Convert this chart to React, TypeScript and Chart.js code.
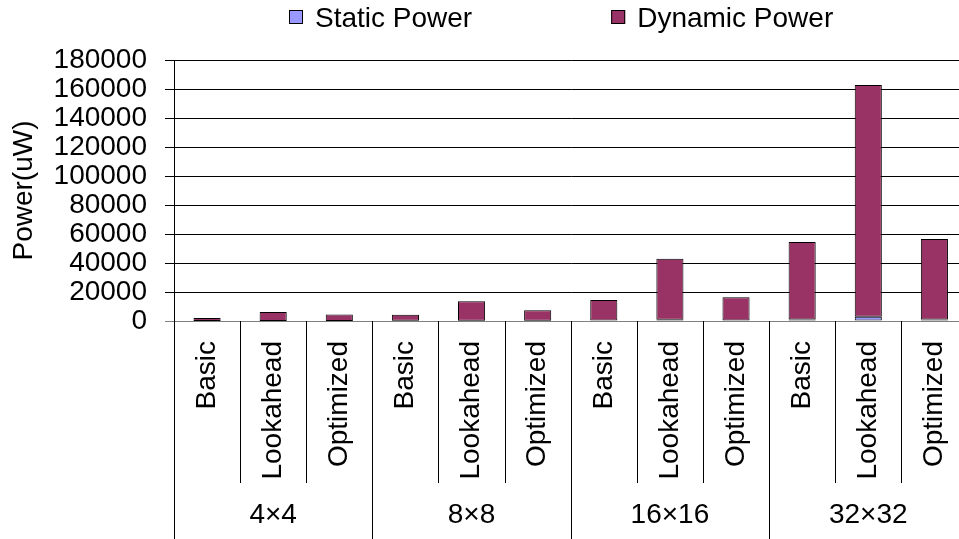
import React, { useEffect, useRef } from 'react';
import { Chart, registerables } from 'chart.js';

Chart.register(...registerables);

const groups = ['4×4', '8×8', '16×16', '32×32'];
const variants = ['Basic', 'Lookahead', 'Optimized'];
const categories = groups.flatMap(() => variants);

const staticPower = [50, 80, 60, 120, 250, 150, 300, 900, 350, 1100, 3000, 1100];
const dynamicPower = [1950, 6120, 4340, 4180, 13350, 7250, 14100, 42100, 15950, 53400, 159700, 55500];

const seriesNames = ['Static Power', 'Dynamic Power'];
const seriesColors = ['#9999FF', '#993366'];

const yMin = 0;
const yMax = 180000;
const yStep = 20000;
const yTitle = 'Power(uW)';

const FONT = '"Liberation Sans", Arial, sans-serif';

export default function App() {
  const ref = useRef<HTMLCanvasElement>(null);

  useEffect(() => {
    Chart.defaults.font.family = FONT;

    const separators = {
      id: 'separators',
      afterDraw(chart: any) {
        const xs = chart.scales.x;
        const x2 = chart.scales.x2;
        const ctx = chart.ctx;
        const top = chart.chartArea.bottom;
        ctx.save();
        ctx.strokeStyle = '#000';
        ctx.lineWidth = 1;
        for (let i = 0; i <= categories.length; i++) {
          const px = Math.round(xs.getPixelForValue(i - 0.5)) + 0.5;
          const bottom = i % variants.length === 0 ? x2.bottom : xs.bottom;
          ctx.beginPath();
          ctx.moveTo(px, top);
          ctx.lineTo(px, bottom);
          ctx.stroke();
        }
        ctx.restore();
      },
    };

    const topLegend = {
      id: 'topLegend',
      afterDraw(chart: any) {
        const ctx = chart.ctx;
        ctx.save();
        ctx.font = `28px ${FONT}`;
        ctx.textBaseline = 'alphabetic';
        let x = 289;
        const boxTop = 10;
        const baseline = 27;
        chart.data.datasets.forEach((ds: any) => {
          ctx.fillStyle = ds.backgroundColor;
          ctx.fillRect(x, boxTop, 14, 14);
          ctx.strokeStyle = '#000';
          ctx.lineWidth = 1;
          ctx.strokeRect(x + 0.5, boxTop + 0.5, 13, 13);
          ctx.fillStyle = '#000';
          ctx.fillText(ds.label, x + 26, baseline);
          x += 26 + ctx.measureText(ds.label).width + 139;
        });
        ctx.restore();
      },
    };

    const chart = new Chart(ref.current!, {
      type: 'bar',
      data: {
        labels: categories,
        datasets: [
          {
            label: seriesNames[0],
            data: staticPower,
            backgroundColor: seriesColors[0],
            borderColor: '#000',
            borderWidth: 1,
            borderSkipped: false,
            barPercentage: 0.41,
            categoryPercentage: 1,
          },
          {
            label: seriesNames[1],
            data: dynamicPower,
            backgroundColor: seriesColors[1],
            borderColor: '#000',
            borderWidth: 1,
            borderSkipped: false,
            barPercentage: 0.41,
            categoryPercentage: 1,
          },
        ],
      },
      options: {
        responsive: false,
        animation: false,
        events: [],
        layout: { padding: { top: 60, left: 0, right: 0, bottom: 0 } },
        plugins: {
          legend: { display: false },
          tooltip: { enabled: false },
        },
        scales: {
          x: {
            stacked: true,
            offset: true,
            weight: 0,
            grid: { display: false, drawTicks: false },
            border: { display: true, color: '#808080', width: 1 },
            ticks: {
              minRotation: 90,
              maxRotation: 90,
              autoSkip: false,
              padding: 20,
              color: '#000',
              font: { size: 28, family: FONT },
            },
            afterFit: (s: any) => {
              s.height = 162;
            },
          },
          x2: {
            type: 'category',
            labels: groups,
            position: 'bottom',
            offset: true,
            weight: 1,
            grid: { display: false, drawTicks: false },
            border: { display: false },
            ticks: {
              autoSkip: false,
              maxRotation: 0,
              padding: 15,
              color: '#000',
              font: { size: 28, family: FONT },
            },
            afterFit: (s: any) => {
              s.height = 56;
            },
          },
          y: {
            stacked: true,
            min: yMin,
            max: yMax,
            ticks: {
              stepSize: yStep,
              autoSkip: false,
              padding: 18,
              color: '#000',
              font: { size: 28, family: FONT },
              callback: (v: any) => String(v),
            },
            grid: {
              color: (c: any) => (c.tick && c.tick.value === 0 ? '#808080' : '#000'),
              lineWidth: 1,
              tickLength: 9,
            },
            border: { display: true, color: '#000', width: 1 },
            title: {
              display: true,
              text: yTitle,
              color: '#000',
              font: { size: 28, family: FONT },
              padding: { top: 7, bottom: 0 },
            },
            afterFit: (s: any) => {
              s.width = 174;
            },
          },
        },
      },
      plugins: [separators, topLegend],
    });

    return () => chart.destroy();
  }, []);

  return (
    <div
      style={{
        position: 'fixed',
        left: 0,
        top: 0,
        width: 959,
        height: 539,
        overflow: 'hidden',
        background: '#fff',
      }}
    >
      <canvas ref={ref} width={988} height={539} style={{ display: 'block' }} />
    </div>
  );
}
